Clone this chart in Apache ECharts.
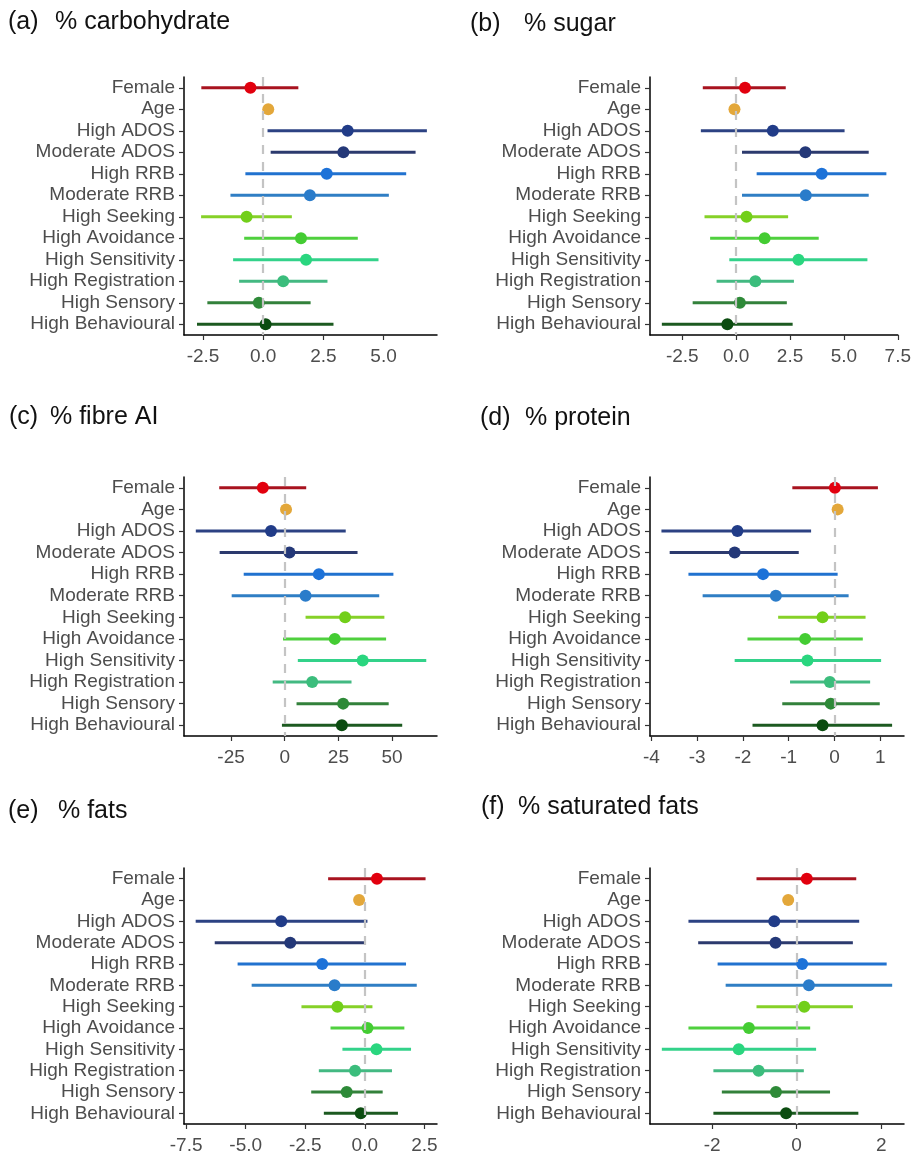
<!DOCTYPE html>
<html>
<head>
<meta charset="utf-8">
<script src="https://cdn.jsdelivr.net/npm/echarts@6/dist/echarts.min.js"></script>
<style>
  html, body { margin: 0; padding: 0; background: #fff; }
  #chart { width: 914px; height: 1155px; }
</style>
</head>
<body>
<div id="chart"></div>
<script>
const categories = ['Female', 'Age', 'High ADOS', 'Moderate ADOS', 'High RRB', 'Moderate RRB',
  'High Seeking', 'High Avoidance', 'High Sensitivity', 'High Registration', 'High Sensory', 'High Behavioural']

// (a) % carbohydrate
const carbEst = [-0.53, 0.21, 3.51, 3.33, 2.64, 1.94, -0.69, 1.57, 1.78, 0.83, -0.18, 0.10]
const carbLow = [-2.57, 0.10, 0.18, 0.31, -0.74, -1.36, -2.58, -0.79, -1.25, -1.00, -2.32, -2.75]
const carbHigh = [1.46, 0.30, 6.80, 6.33, 5.94, 5.22, 1.19, 3.93, 4.79, 2.67, 1.97, 2.92]
const carbTicks = [-2.5, 0, 2.5, 5]

// (b) % sugar
const sugarEst = [0.41, -0.08, 1.70, 3.21, 3.97, 3.23, 0.48, 1.32, 2.89, 0.89, 0.17, -0.41]
const sugarLow = [-1.55, -0.18, -1.64, 0.27, 0.95, 0.27, -1.47, -1.21, -0.32, -0.91, -2.02, -3.45]
const sugarHigh = [2.30, 0.02, 5.03, 6.15, 6.97, 6.15, 2.41, 3.83, 6.09, 2.68, 2.35, 2.62]
const sugarTicks = [-2.5, 0, 2.5, 5, 7.5]

// (c) % fibre AI
const fibreEst = [-10.2, 0.6, -6.4, 2.2, 15.9, 9.7, 28.1, 23.3, 36.3, 12.8, 27.2, 26.6]
const fibreLow = [-30.5, -0.4, -41.4, -30.3, -19.1, -24.7, 9.7, -0.8, 6.1, -5.6, 5.5, -1.3]
const fibreHigh = [10.0, 1.6, 28.4, 33.9, 50.6, 44.0, 46.4, 47.2, 65.9, 31.1, 48.4, 54.7]
const fibreTicks = [-25, 0, 25, 50]

// (d) % protein
const proteinEst = [0.01, 0.07, -2.12, -2.18, -1.56, -1.28, -0.26, -0.64, -0.59, -0.10, -0.08, -0.26]
const proteinLow = [-0.92, 0.03, -3.78, -3.60, -3.19, -2.88, -1.23, -1.90, -2.18, -0.97, -1.14, -1.79]
const proteinHigh = [0.95, 0.11, -0.51, -0.78, 0.07, 0.31, 0.68, 0.62, 1.02, 0.78, 0.99, 1.26]
const proteinTicks = [-4, -3, -2, -1, 0, 1]

// (e) % fats
const fatsEst = [0.51, -0.24, -3.51, -3.13, -1.79, -1.27, -1.15, 0.11, 0.49, -0.41, -0.76, -0.17]
const fatsLow = [-1.54, -0.36, -7.10, -6.30, -5.34, -4.75, -2.66, -1.44, -0.94, -1.93, -2.25, -1.72]
const fatsHigh = [2.55, -0.10, 0.11, 0.04, 1.73, 2.18, 0.32, 1.66, 1.94, 1.14, 0.75, 1.39]
const fatsTicks = [-7.5, -5, -2.5, 0, 2.5]

// (f) % saturated fats
const satEst = [0.24, -0.20, -0.53, -0.50, 0.13, 0.29, 0.18, -1.13, -1.37, -0.90, -0.49, -0.25]
const satLow = [-0.95, -0.26, -2.56, -2.33, -1.87, -1.68, -0.95, -2.56, -3.19, -1.97, -1.77, -1.97]
const satHigh = [1.41, -0.13, 1.48, 1.33, 2.13, 2.26, 1.33, 0.32, 0.46, 0.17, 0.79, 1.46]
const satTicks = [-2, 0, 2]

const pointColors = ['#e2000e', '#e3a73a', '#213c88', '#243878', '#1d72d8', '#2a7cca',
  '#72cf1a', '#44cc33', '#2ad67f', '#3bbd7c', '#2e8a38', '#0b4c10']
const lineColors = ['#a8131f', '#e3b050', '#2c4283', '#2c3a6e', '#2172cf', '#2f7ec4',
  '#86d128', '#4fd03e', '#33d28a', '#43b982', '#33813b', '#1c5a20']

const FONT = '"Liberation Sans", Arial, sans-serif'

const panels = [
  { tag: '(a)', name: '% carbohydrate', est: carbEst, low: carbLow, high: carbHigh, ticks: carbTicks, dec: 1,
    min: -3.29, max: 7.22, grid: { left: 184, top: 77, width: 253, height: 258 }, tagX: 8, nameX: 55, titleY: 10 },
  { tag: '(b)', name: '% sugar', est: sugarEst, low: sugarLow, high: sugarHigh, ticks: sugarTicks, dec: 1,
    min: -4.0, max: 7.5, grid: { left: 650, top: 77, width: 254, height: 258 }, tagX: 470, nameX: 524, titleY: 12 },
  { tag: '(c)', name: '% fibre AI', est: fibreEst, low: fibreLow, high: fibreHigh, ticks: fibreTicks, dec: 0,
    min: -46.9, max: 70.9, grid: { left: 184, top: 477, width: 253, height: 259 }, tagX: 9, nameX: 50, titleY: 405 },
  { tag: '(d)', name: '% protein', est: proteinEst, low: proteinLow, high: proteinHigh, ticks: proteinTicks, dec: 0,
    min: -4.03, max: 1.52, grid: { left: 650, top: 477, width: 254, height: 259 }, tagX: 480, nameX: 525, titleY: 406 },
  { tag: '(e)', name: '% fats', est: fatsEst, low: fatsLow, high: fatsHigh, ticks: fatsTicks, dec: 1,
    min: -7.59, max: 3.03, grid: { left: 184, top: 868, width: 253, height: 260 }, tagX: 8, nameX: 58, titleY: 799 },
  { tag: '(f)', name: '% saturated fats', est: satEst, low: satLow, high: satHigh, ticks: satTicks, dec: 0,
    min: -3.47, max: 2.54, grid: { left: 650, top: 868, width: 254, height: 260 }, tagX: 481, nameX: 518, titleY: 795 }
]

const titles = []
const grids = []
const xAxes = []
const yAxes = []
const series = []

panels.forEach((p, i) => {
  const titleText = { fontSize: 25, fontWeight: 'normal', color: '#111', fontFamily: FONT }
  titles.push({ text: p.tag, left: p.tagX, top: p.titleY, padding: 0, textStyle: titleText })
  titles.push({ text: p.name, left: p.nameX, top: p.titleY, padding: 0, textStyle: titleText })

  grids.push(p.grid)

  xAxes.push({
    type: 'value',
    gridIndex: i,
    min: p.min,
    max: p.max,
    splitLine: { show: false },
    axisLine: { show: true, onZero: false, lineStyle: { color: '#000', width: 1.5 } },
    axisTick: { show: true, customValues: p.ticks, length: 5, lineStyle: { color: '#333', width: 1.2 } },
    axisLabel: {
      customValues: p.ticks,
      formatter: v => v.toFixed(p.dec),
      color: '#4d4d4d',
      fontSize: 19,
      fontFamily: FONT,
      margin: 12
    }
  })

  yAxes.push({
    type: 'category',
    gridIndex: i,
    data: categories,
    inverse: true,
    axisLine: { show: true, onZero: false, lineStyle: { color: '#000', width: 1.5 } },
    axisTick: { show: true, alignWithLabel: true, length: 5, lineStyle: { color: '#333', width: 1.2 } },
    axisLabel: { interval: 0, color: '#4d4d4d', fontSize: 19, fontFamily: FONT, margin: 9 },
    splitLine: { show: false }
  })

  // confidence intervals
  series.push({
    type: 'custom',
    xAxisIndex: i,
    yAxisIndex: i,
    z: 2,
    encode: { x: [0, 1], y: 2 },
    data: categories.map((c, k) => [p.low[k], p.high[k], k]),
    renderItem: (params, api) => {
      const k = api.value(2)
      const a = api.coord([api.value(0), k])
      const b = api.coord([api.value(1), k])
      return {
        type: 'line',
        shape: { x1: a[0], y1: a[1], x2: b[0], y2: b[1] },
        style: { stroke: lineColors[k], lineWidth: 3, lineCap: 'butt' }
      }
    }
  })

  // dashed zero reference
  series.push({
    type: 'line',
    xAxisIndex: i,
    yAxisIndex: i,
    z: 3,
    data: [],
    markLine: {
      silent: true,
      symbol: 'none',
      label: { show: false },
      lineStyle: { color: '#c4c4c4', type: [9, 8], width: 2.2 },
      data: [{ xAxis: 0 }]
    }
  })

  // point estimates
  series.push({
    type: 'scatter',
    xAxisIndex: i,
    yAxisIndex: i,
    z: 4,
    symbolSize: 12,
    data: categories.map((c, k) => ({ value: [p.est[k], k], itemStyle: { color: pointColors[k], opacity: 1 } }))
  })
})

const chart = echarts.init(document.getElementById('chart'), null, { renderer: 'canvas' })
chart.setOption({
  animation: false,
  backgroundColor: '#fff',
  title: titles,
  grid: grids,
  xAxis: xAxes,
  yAxis: yAxes,
  series: series
})
</script>
</body>
</html>
